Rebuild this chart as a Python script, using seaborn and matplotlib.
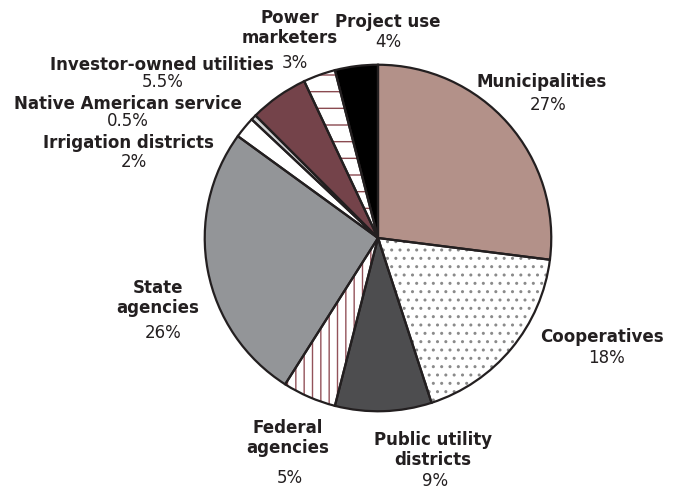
import matplotlib
matplotlib.use("Agg")
import matplotlib.pyplot as plt
import seaborn as sns

sns.set_theme(style="white")
plt.rcParams["font.family"] = ["DejaVu Sans"]
plt.rcParams["hatch.linewidth"] = 1.0

# ---- data ----
categories = ["Municipalities", "Cooperatives", "Public utility\ndistricts",
              "Federal\nagencies", "State\nagencies", "Irrigation districts",
              "Native American service", "Investor-owned utilities",
              "Power\nmarketers", "Project use"]
shares = [27, 18, 9, 5, 26, 2, 0.5, 5.5, 3, 4]
pct_labels = ["27%", "18%", "9%", "5%", "26%", "2%", "0.5%", "5.5%", "3%", "4%"]

# ---- styles ----
face_colors = ["#b39189", "white", "#4d4d4f", "white", "#939598",
               "white", "#d1d3d4", "#74434a", "white", "black"]
hatches = [None, "..", None, "||", None, None, None, None, "-", None]
hatch_colors = ["#b39189", "#8a8a8a", "#4d4d4f", "#93525a", "#939598",
                "white", "#d1d3d4", "#74434a", "#8a4a50", "black"]

# label layout in pixel coordinates (name centre, pct centre)
name_pos = [(542, 82), (602, 337), (433, 450), (288, 438), (158, 298),
            (128, 143), (128, 104), (162, 65), (290, 28), (388, 22)]
pct_pos = [(548, 105), (607, 358), (435, 481), (290, 478), (163, 333),
           (134, 162), (128, 121), (163, 82), (295, 63), (388, 42)]

W, H = 682, 490
fig = plt.figure(figsize=(W / 100, H / 100), dpi=100)
cx, cy, r = 378, 238, 175
ax = fig.add_axes([(cx - r) / W, (H - cy - r) / H, 2 * r / W, 2 * r / H])

# hatched / filled layer
wedges, _ = ax.pie(shares, colors=face_colors, startangle=90, counterclock=False,
                   radius=1, wedgeprops=dict(linewidth=0))
for w, h, hc in zip(wedges, hatches, hatch_colors):
    if h:
        w.set_hatch(h)
        w.set_edgecolor(hc)
        w.set_linewidth(0)

# outline layer
ax.pie(shares, colors=["none"] * len(shares), startangle=90, counterclock=False,
       radius=1, wedgeprops=dict(linewidth=1.6, edgecolor="#231f20", fill=False))
ax.set_xlim(-1.01, 1.01)
ax.set_ylim(-1.01, 1.01)
ax.set_aspect("auto")
ax.axis("off")

txt = "#231f20"
for name, (nx, ny), pct, (px, py) in zip(categories, name_pos, pct_labels, pct_pos):
    fig.text(nx / W, 1 - ny / H, name, ha="center", va="center", fontsize=12,
             fontweight="bold", color=txt, linespacing=1.15)
    fig.text(px / W, 1 - py / H, pct, ha="center", va="center", fontsize=12,
             color=txt)

fig.savefig("out.png", dpi=100)
